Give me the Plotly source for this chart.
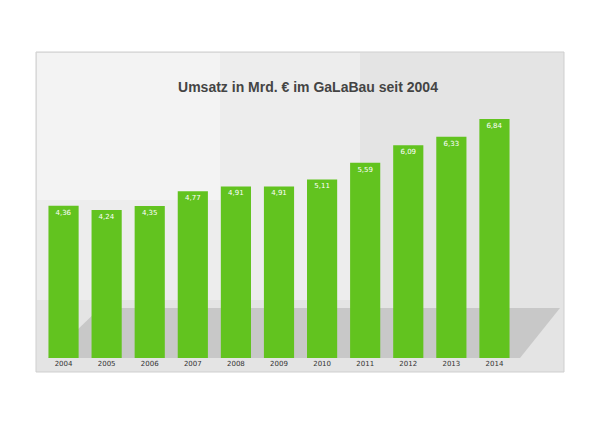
import plotly.graph_objects as go

years = ["2004","2005","2006","2007","2008","2009","2010","2011","2012","2013","2014"]
values = [4.36,4.24,4.35,4.77,4.91,4.91,5.11,5.59,6.09,6.33,6.84]
labels = ["4,36","4,24","4,35","4,77","4,91","4,91","5,11","5,59","6,09","6,33","6,84"]

O = 8  # page body offset
W, H = 600, 424
L, R, T, B = 42 - O, 84 + O, 96 - O, 66 + O
pw, ph = W - L - R, H - T - B
def px(x): return (x - O - L) / pw
def py(y): return (H - B - (y - O)) / ph

fig = go.Figure(go.Bar(
    x=years, y=values, text=labels, textposition="inside", insidetextanchor="end",
    textfont=dict(color="white", size=7, family="Arial Black, DejaVu Sans"),
    marker=dict(color="#62c31f", line=dict(width=0)), width=0.7, cliponaxis=False))

shapes = [
    dict(type="rect", xref="paper", yref="paper", x0=px(36), x1=px(564), y0=py(372), y1=py(52),
         fillcolor="#e4e4e4", line=dict(color="#cfcfcf", width=1), layer="below"),
    dict(type="rect", xref="paper", yref="paper", x0=px(37), x1=px(360), y0=py(300), y1=py(53),
         fillcolor="rgba(255,255,255,0.35)", line=dict(width=0), layer="below"),
    dict(type="rect", xref="paper", yref="paper", x0=px(37), x1=px(220), y0=py(200), y1=py(53),
         fillcolor="rgba(255,255,255,0.35)", line=dict(width=0), layer="below"),
    dict(type="path", xref="paper", yref="paper", layer="below",
         path=f"M {px(48)},{py(358)} L {px(520)},{py(358)} L {px(560)},{py(308)} L {px(100)},{py(308)} Z",
         fillcolor="rgba(150,150,150,0.35)", line=dict(width=0)),
]

fig.update_layout(
    width=W, height=H, margin=dict(l=L, r=R, t=T, b=B),
    paper_bgcolor="white", plot_bgcolor="rgba(0,0,0,0)", shapes=shapes,
    title=dict(text="<b>Umsatz in Mrd. € im GaLaBau seit 2004</b>", x=300/W, xanchor="center",
               y=1 - (87 - O)/H, yanchor="middle", font=dict(size=14, color="#444", family="Arial, Liberation Sans")),
    xaxis=dict(showgrid=False, showline=False, ticks="", tickfont=dict(size=7, color="#333", family="Arial Black, DejaVu Sans")),
    yaxis=dict(range=[0, 7.5], visible=False),
    showlegend=False,
)
fig.write_html("out.html")
